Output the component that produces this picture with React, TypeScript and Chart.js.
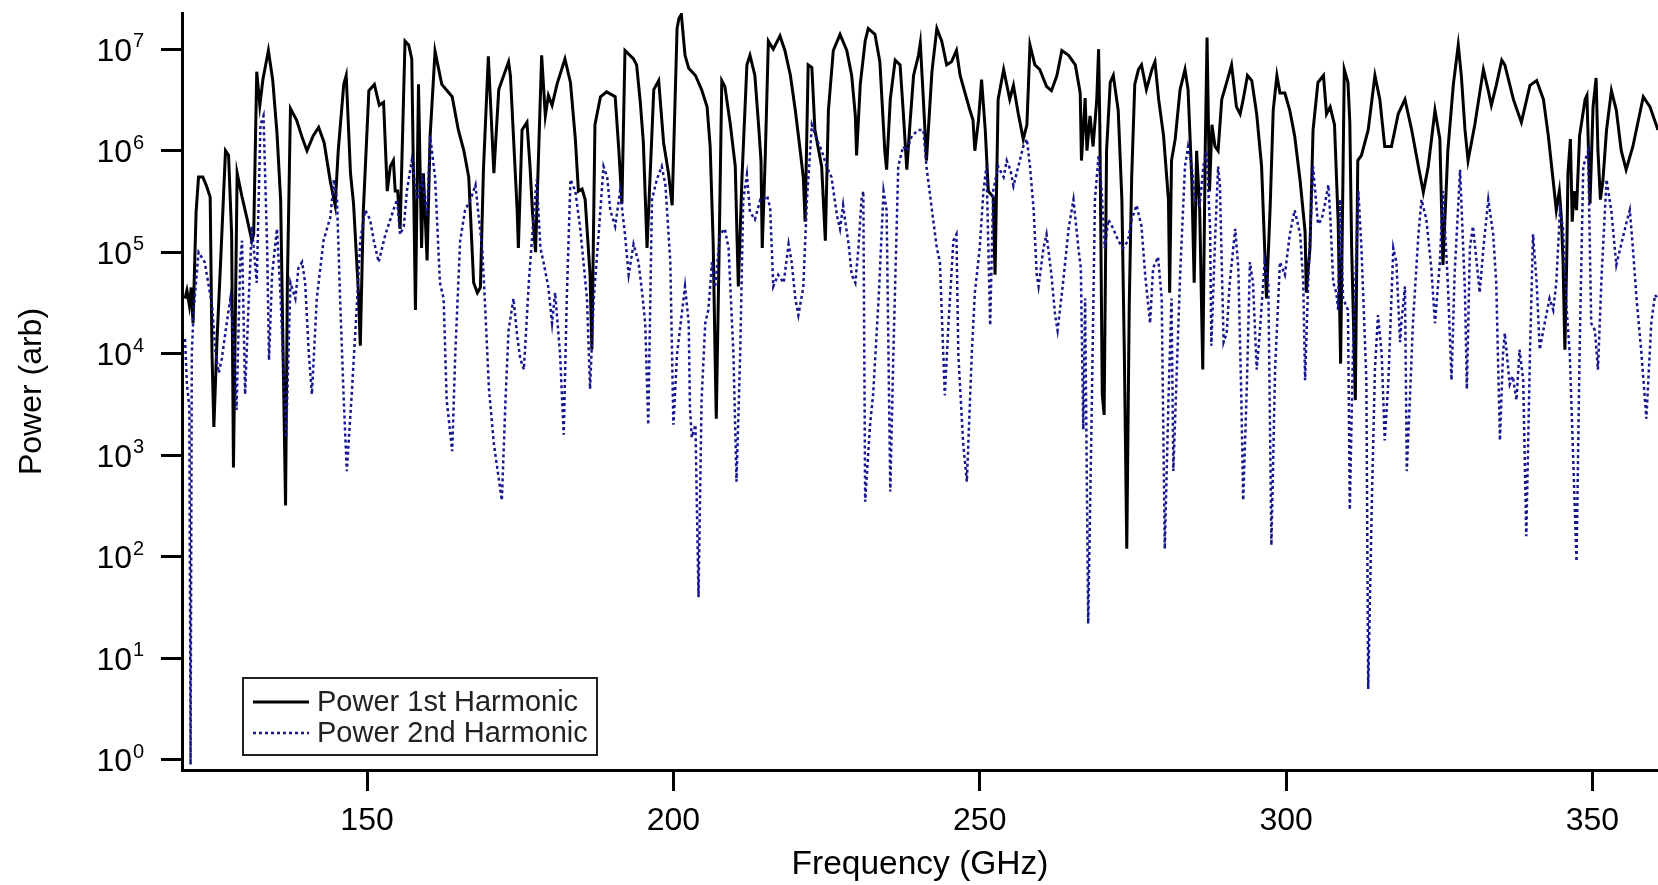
import { useEffect, useRef } from "react";
import { Chart, registerables } from "chart.js";

Chart.register(...registerables);

const FONT = "'Liberation Sans', Arial, Helvetica, sans-serif";

const xTickValues = [150, 200, 250, 300, 350];
const yExponents = [0, 1, 2, 3, 4, 5, 6, 7];
const seriesLabels = ["Power 1st Harmonic", "Power 2nd Harmonic"];
const xTitle = "Frequency (GHz)";
const yTitle = "Power (arb)";

const h1Freq = [
  120.3, 120.6, 121.0, 121.3, 121.6, 122.1, 122.5, 123.2, 123.8, 124.4,
  124.7, 125.0, 125.5, 126.1, 126.9, 127.4, 127.9, 128.2, 128.8, 129.6,
  130.3, 131.2, 131.5, 132.0, 132.5, 133.0, 133.9, 134.6, 135.3, 135.9,
  136.3, 136.7, 137.0, 137.5, 138.5, 139.5, 140.2, 141.2, 142.1, 143.0,
  144.0, 144.8, 145.3, 146.2, 146.6, 147.3, 147.8, 148.6, 148.9, 149.4,
  150.3, 151.2, 152.0, 152.7, 153.3, 153.8, 154.3, 154.6, 155.0, 155.4,
  156.2, 156.8, 157.3, 157.9, 158.4, 158.9, 159.2, 159.8, 160.3, 161.1,
  162.2, 163.9, 164.9, 165.8, 166.6, 167.4, 168.0, 168.5, 169.0, 169.8,
  170.7, 171.5, 173.1, 173.4, 174.5, 174.7, 175.3, 176.1, 176.6, 177.0,
  177.5, 178.5, 179.1, 179.6, 180.2, 181.0, 182.3, 183.2, 184.0, 184.5,
  185.1, 185.6, 186.4, 186.7, 187.2, 188.1, 189.1, 190.5, 191.1, 191.6,
  192.1, 193.5, 194.0, 194.6, 195.1, 195.7, 196.8, 197.6, 198.4, 199.2,
  199.8, 200.6, 200.9, 201.3, 201.9, 202.5, 203.6, 204.6, 205.5, 206.0,
  206.5, 206.8, 207.0, 207.4, 207.9, 208.4, 209.3, 210.1, 210.4, 210.6,
  211.2, 212.0, 212.5, 213.3, 213.9, 214.3, 214.5, 215.0, 215.5, 216.3,
  217.4, 218.2, 219.1, 219.9, 220.7, 221.2, 221.5, 222.0, 222.6, 223.1,
  224.2, 224.8, 225.3, 226.1, 227.2, 228.3, 229.1, 229.7, 229.9, 230.5,
  231.3, 231.8, 232.9, 233.7, 234.5, 234.8, 235.4, 236.2, 237.0, 237.5,
  238.1, 238.6, 239.2, 240.0, 240.3, 240.8, 241.3, 242.2, 243.0, 243.8,
  244.6, 245.4, 246.2, 246.8, 247.6, 248.4, 248.9, 249.2, 249.8, 250.3,
  250.9, 251.4, 252.2, 252.5, 253.0, 253.9, 254.9, 255.5, 256.3, 257.1,
  257.7, 258.2, 259.0, 259.8, 260.9, 261.7, 262.6, 263.4, 264.5, 265.6,
  266.4, 266.6, 267.2, 267.5, 268.0, 268.5, 269.1, 269.4, 269.6, 270.0,
  270.3, 270.7, 271.3, 271.8, 272.6, 273.2, 273.6, 274.0, 274.4, 274.8,
  275.3, 275.9, 276.4, 277.2, 278.1, 278.6, 279.2, 280.0, 280.8, 281.0,
  281.3, 281.9, 282.7, 283.5, 284.0, 284.6, 285.0, 285.4, 285.9, 286.4,
  286.8, 287.1, 287.5, 287.9, 288.4, 288.9, 289.5, 290.3, 291.1, 291.9,
  292.5, 293.0, 293.7, 294.4, 295.2, 296.0, 296.5, 296.8, 297.4, 297.9,
  298.5, 299.0, 299.8, 300.6, 301.4, 302.3, 303.1, 303.3, 303.9, 304.4,
  305.2, 306.1, 306.6, 307.2, 307.9, 308.5, 308.9, 309.5, 310.1, 310.4,
  310.7, 311.0, 311.3, 311.7, 312.3, 313.4, 314.5, 315.3, 316.1, 317.2,
  318.3, 319.4, 320.5, 321.6, 322.4, 323.2, 324.3, 325.1, 325.6, 326.4,
  327.3, 328.1, 328.6, 329.2, 329.7, 330.8, 332.2, 333.0, 333.5, 334.3,
  335.2, 335.7, 337.1, 338.4, 339.8, 340.9, 342.0, 342.8, 343.6, 344.1,
  344.6, 344.9, 345.2, 345.5, 345.8, 346.0, 346.4, 346.7, 347.0, 347.4,
  347.9, 348.8, 349.1, 349.6, 350.1, 350.6, 350.9, 351.3, 351.7, 352.3,
  353.1, 353.9, 354.7, 355.5, 356.6, 358.3, 359.4, 360.7,
];

const h1Power = [
  3.5e4, 4.2e4, 3.0e4, 4.5e4, 2.0e4, 2.5e5, 5.5e5, 5.5e5, 4.5e5, 3.5e5,
  1.0e4, 1.9e3, 1.3e4, 8.0e4, 1.0e6, 9.0e5, 1.5e5, 7.6e2, 6.0e5, 3.5e5,
  2.3e5, 1.3e5, 1.5e5, 6.0e6, 2.8e6, 5.0e6, 9.7e6, 5.0e6, 1.5e6, 3.3e5,
  1.0e4, 3.2e2, 5.0e4, 2.6e6, 2.0e6, 1.3e6, 1.0e6, 1.4e6, 1.7e6, 1.2e6,
  5.0e5, 2.9e5, 1.0e6, 4.5e6, 5.5e6, 6.0e5, 3.0e5, 4.0e4, 1.2e4, 2.6e5,
  3.9e6, 4.5e6, 2.8e6, 3.0e6, 4.0e5, 7.0e5, 8.0e5, 4.0e5, 4.0e5, 1.7e5,
  1.2e7, 1.1e7, 8.0e6, 2.7e4, 4.5e6, 1.1e5, 6.0e5, 8.3e4, 1.4e6, 9.5e6,
  4.5e6, 3.4e6, 1.6e6, 1.0e6, 5.5e5, 5.0e4, 4.0e4, 4.5e4, 6.5e5, 8.5e6,
  6.0e5, 4.0e6, 7.5e6, 5.5e6, 2.6e5, 1.1e5, 1.6e6, 1.9e6, 7.0e5, 2.5e5,
  1.0e5, 8.7e6, 2.2e6, 3.5e6, 2.8e6, 4.5e6, 8.0e6, 4.7e6, 1.3e6, 4.0e5,
  4.2e5, 3.3e5, 6.0e4, 1.1e4, 1.8e6, 3.4e6, 3.8e6, 3.4e6, 1.0e6, 3.0e5,
  9.7e6, 8.0e6, 7.0e6, 3.0e6, 1.2e6, 1.1e5, 4.0e6, 4.9e6, 1.2e6, 6.0e5,
  2.9e5, 1.6e7, 2.0e7, 2.2e7, 8.7e6, 6.5e6, 5.5e6, 4.0e6, 2.7e6, 1.1e6,
  1.2e5, 1.0e4, 2.3e3, 6.0e4, 4.9e6, 4.3e6, 1.8e6, 7.0e5, 1.3e5, 4.6e4,
  5.5e5, 7.0e6, 8.7e6, 5.5e6, 1.8e6, 8.0e5, 1.1e5, 9.0e5, 1.2e7, 1.0e7,
  1.35e7, 9.7e6, 5.5e6, 2.5e6, 1.0e6, 5.5e5, 2.0e5, 7.0e6, 6.6e6, 1.6e6,
  7.0e5, 1.3e5, 2.5e6, 9.7e6, 1.4e7, 9.7e6, 5.5e6, 2.2e6, 9.0e5, 4.5e6,
  1.2e7, 1.6e7, 1.4e7, 7.5e6, 1.0e6, 6.5e5, 3.2e6, 7.8e6, 7.0e6, 2.5e6,
  6.5e5, 1.8e6, 5.5e6, 8.7e6, 1.15e7, 3.2e6, 8.0e5, 6.0e6, 1.6e7, 1.2e7,
  7.0e6, 7.5e6, 9.7e6, 5.5e6, 3.7e6, 2.5e6, 2.0e6, 1.0e6, 2.0e6, 5.0e6,
  1.6e6, 4.0e5, 3.5e5, 6.0e4, 3.2e6, 6.3e6, 3.2e6, 4.4e6, 2.3e6, 1.3e6,
  1.8e6, 1.1e7, 7.0e6, 6.3e6, 4.3e6, 3.9e6, 5.5e6, 9.7e6, 8.7e6, 7.0e6,
  3.7e6, 8.0e5, 3.3e6, 1.0e6, 2.2e6, 1.1e6, 3.2e6, 1.0e7, 1.8e6, 4.0e3,
  2.5e3, 1.0e6, 4.7e6, 5.5e6, 2.5e6, 3.3e5, 1.0e4, 1.2e2, 3.0e4, 5.5e5,
  4.5e6, 6.3e6, 7.0e6, 4.0e6, 6.3e6, 7.5e6, 3.2e6, 1.4e6, 3.3e5, 4.0e4,
  8.0e5, 1.3e6, 4.0e6, 6.3e6, 4.0e6, 5.5e5, 5.0e4, 1.0e6, 2.6e5, 7.0e3,
  1.0e6, 1.3e7, 4.0e5, 1.8e6, 1.1e6, 1.0e6, 3.2e6, 4.7e6, 7.0e6, 2.7e6,
  2.3e6, 3.2e6, 5.5e6, 4.9e6, 2.3e6, 7.0e5, 1.1e5, 3.5e4, 2.8e5, 2.5e6,
  5.5e6, 3.7e6, 3.7e6, 2.5e6, 1.4e6, 5.0e5, 1.6e5, 4.0e4, 1.1e5, 1.6e6,
  4.7e6, 5.5e6, 2.3e6, 2.7e6, 1.8e6, 2.0e5, 8.0e3, 6.3e6, 4.7e6, 1.9e6,
  1.1e5, 2.0e4, 3.5e3, 8.0e5, 9.0e5, 1.6e6, 5.5e6, 3.2e6, 1.1e6, 1.1e6,
  2.3e6, 3.2e6, 1.6e6, 7.0e5, 3.9e5, 7.0e5, 2.5e6, 1.3e6, 7.5e4, 1.0e6,
  4.5e6, 1.1e7, 5.5e6, 1.6e6, 8.0e5, 1.8e6, 6.3e6, 3.9e6, 2.8e6, 4.4e6,
  7.8e6, 7.0e6, 3.2e6, 1.9e6, 4.4e6, 4.9e6, 3.2e6, 1.4e6, 5.0e5, 2.6e5,
  4.0e5, 2.3e5, 8.3e4, 1.1e4, 8.3e4, 6.0e5, 1.3e6, 2.0e5, 4.0e5, 2.6e5,
  1.4e6, 3.2e6, 3.5e6, 3.0e5, 2.7e6, 5.2e6, 1.0e6, 3.3e5, 5.0e5, 1.6e6,
  3.9e6, 2.5e6, 1.0e6, 6.5e5, 1.1e6, 3.4e6, 2.7e6, 1.6e6,
];

const h2Freq = [
  120.3, 120.6, 121.0, 121.2, 121.4, 121.7, 122.5, 123.5, 124.7, 125.3,
  125.8, 126.3, 127.1, 127.7, 128.2, 128.7, 129.3, 129.6, 130.1, 130.7,
  131.2, 132.0, 132.6, 133.1, 133.7, 134.0, 134.5, 135.3, 135.9, 136.4,
  136.8, 137.5, 138.3, 138.8, 139.4, 139.9, 140.5, 141.0, 141.8, 142.9,
  144.0, 144.6, 145.1, 145.6, 146.2, 146.7, 147.5, 148.4, 148.9, 149.7,
  150.5, 151.1, 151.9, 153.0, 154.3, 154.9, 155.4, 156.0, 156.5, 157.3,
  158.2, 159.0, 159.8, 160.3, 161.1, 161.9, 162.5, 163.0, 163.9, 164.4,
  165.2, 166.0, 166.9, 167.7, 168.2, 168.8, 169.3, 169.9, 170.7, 172.0,
  172.6, 173.1, 173.9, 174.5, 175.0, 175.6, 176.4, 177.2, 177.7, 178.3,
  178.8, 179.6, 180.2, 180.7, 181.5, 182.1, 182.6, 183.2, 184.0, 184.8,
  185.9, 186.4, 187.0, 187.8, 188.6, 189.2, 189.7, 190.5, 191.3, 192.1,
  192.7, 193.5, 194.3, 194.9, 195.4, 195.9, 196.5, 197.3, 198.1, 198.7,
  199.5, 200.0, 200.6, 201.9, 202.5, 202.7, 203.0, 203.6, 204.1, 204.6,
  205.2, 205.7, 206.3, 206.8, 207.6, 208.4, 209.0, 209.8, 210.3, 210.9,
  211.4, 212.0, 212.5, 213.3, 214.2, 214.7, 215.3, 215.8, 216.3, 217.1,
  218.0, 218.8, 219.3, 219.9, 220.4, 221.2, 221.8, 222.6, 223.4, 224.2,
  225.0, 225.8, 226.7, 227.2, 227.7, 228.0, 228.6, 229.1, 229.7, 230.2,
  230.7, 231.0, 231.3, 232.1, 232.6, 233.5, 234.3, 234.8, 235.4, 235.9,
  236.7, 237.5, 238.1, 238.9, 240.0, 240.8, 241.3, 242.2, 243.0, 243.5,
  244.3, 244.9, 245.7, 246.2, 246.5, 247.3, 247.9, 248.7, 249.2, 250.0,
  250.6, 251.1, 251.7, 252.2, 253.0, 253.9, 254.4, 255.0, 255.5, 256.3,
  257.1, 257.7, 258.2, 258.8, 259.3, 259.6, 260.4, 260.9, 261.7, 262.3,
  262.7, 263.6, 264.5, 265.3, 266.1, 266.5, 266.9, 267.2, 267.7, 268.3,
  268.8, 269.4, 269.9, 270.4, 271.0, 271.8, 272.6, 273.4, 274.2, 274.8,
  275.6, 276.4, 277.0, 277.8, 278.3, 279.1, 279.7, 280.2, 280.8, 281.3,
  281.6, 282.7, 283.5, 284.0, 284.6, 285.1, 285.9, 286.5, 287.0, 287.6,
  287.8, 288.4, 288.9, 289.2, 289.8, 290.3, 290.8, 291.7, 292.2, 292.7,
  293.0, 293.6, 294.1, 294.6, 295.2, 295.7, 296.5, 297.1, 297.6, 298.2,
  299.0, 299.8, 300.6, 301.4, 302.3, 302.8, 303.1, 303.6, 304.4, 305.2,
  305.8, 306.3, 306.9, 307.2, 307.7, 308.2, 308.5, 308.8, 309.3, 310.1,
  310.4, 310.9, 311.8, 312.3, 313.1, 313.4, 314.0, 314.5, 315.0, 315.6,
  316.1, 316.7, 317.5, 318.0, 318.6, 318.8, 319.4, 319.7, 320.2, 320.7,
  321.6, 322.1, 322.9, 323.7, 324.3, 325.1, 325.6, 326.4, 327.0, 327.5,
  328.4, 329.2, 329.5, 330.0, 330.5, 331.1, 331.6, 332.2, 333.0, 333.8,
  334.3, 334.9, 335.4, 335.7, 336.5, 337.0, 337.6, 338.1, 338.7, 339.2,
  339.8, 340.3, 340.9, 341.4, 342.2, 343.0, 343.6, 344.1, 344.7, 345.2,
  345.8, 346.3, 346.8, 347.4, 347.9, 348.5, 349.3, 349.8, 350.4, 350.9,
  351.5, 352.3, 353.1, 353.9, 354.7, 355.5, 356.1, 356.6, 357.2, 358.0,
  358.8, 359.6, 360.2, 360.7,
];

const h2Power = [
  1.4e4, 5.0e3, 3.0e3, 0.9, 1.0e4, 2.7e4, 1.0e5, 8.0e4, 3.0e4, 1.0e4,
  6.5e3, 9.0e3, 2.0e4, 3.5e4, 1.5e4, 2.8e3, 8.0e4, 1.3e5, 4.0e3, 3.5e4,
  1.8e5, 5.0e4, 1.8e6, 2.2e6, 1.1e5, 8.7e3, 6.0e4, 1.7e5, 3.5e4, 6.0e3,
  1.5e3, 5.0e4, 3.5e4, 7.0e4, 8.0e4, 5.0e4, 1.0e4, 4.0e3, 3.5e4, 1.3e5,
  2.2e5, 5.2e5, 3.3e5, 3.5e4, 3.5e3, 7.0e2, 4.0e3, 3.5e4, 1.3e5, 2.6e5,
  2.1e5, 1.3e5, 8.0e4, 1.5e5, 2.6e5, 3.3e5, 1.5e5, 1.8e5, 4.0e5, 8.0e5,
  3.3e5, 5.2e5, 2.3e5, 1.4e6, 5.5e5, 5.0e4, 3.5e4, 3.5e3, 1.1e3, 1.0e4,
  1.3e5, 2.6e5, 3.3e5, 4.6e5, 2.3e5, 1.1e5, 2.7e4, 4.5e3, 1.3e3, 3.6e2,
  3.5e3, 1.7e4, 3.5e4, 1.5e4, 9.0e3, 7.0e3, 5.0e4, 2.3e5, 5.2e5, 1.1e5,
  8.0e4, 4.5e4, 2.0e4, 4.0e4, 1.0e4, 1.6e3, 3.5e4, 5.2e5, 4.0e5, 1.7e5,
  3.5e4, 4.5e3, 3.5e4, 1.5e5, 7.0e5, 5.5e5, 2.6e5, 1.8e5, 4.0e5, 1.5e5,
  6.0e4, 1.2e5, 8.0e4, 4.0e4, 2.0e4, 2.0e3, 3.3e5, 5.2e5, 7.0e5, 4.6e5,
  8.0e4, 2.0e3, 1.0e4, 4.6e4, 2.0e4, 3.0e3, 1.5e3, 2.0e3, 40, 3.5e3,
  2.0e4, 2.7e4, 8.0e4, 4.5e4, 1.5e5, 1.7e5, 1.1e5, 1.0e4, 5.5e2, 1.0e4,
  3.3e5, 5.8e5, 2.5e5, 2.1e5, 3.3e5, 3.3e5, 3.6e5, 2.7e5, 4.6e4, 6.0e4,
  5.0e4, 1.2e5, 8.0e4, 3.5e4, 2.4e4, 4.5e4, 3.3e5, 1.8e6, 1.3e6, 1.0e6,
  7.0e5, 5.5e5, 2.3e5, 1.7e5, 2.9e5, 2.1e5, 1.2e5, 6.0e4, 5.0e4, 1.1e5,
  3.3e5, 4.0e5, 3.5e2, 2.0e3, 4.0e3, 3.5e4, 4.0e5, 2.6e5, 4.4e2, 1.0e4,
  7.0e5, 1.1e6, 1.0e6, 1.4e6, 1.6e6, 1.6e6, 7.0e5, 2.6e5, 1.1e5, 8.0e4,
  3.9e3, 2.0e4, 1.3e5, 1.5e5, 1.0e4, 1.3e3, 5.5e2, 1.0e4, 4.0e4, 1.1e5,
  4.0e5, 7.0e5, 1.9e4, 4.0e5, 7.0e5, 5.5e5, 8.0e5, 6.5e5, 4.5e5, 7.0e5,
  1.1e6, 1.3e6, 7.0e5, 2.6e5, 6.0e4, 4.6e4, 1.1e5, 1.5e5, 6.0e4, 2.4e4,
  1.7e4, 5.0e4, 1.7e5, 3.3e5, 1.1e5, 7.0e4, 1.8e3, 3.5e4, 22, 3.5e3,
  3.3e5, 9.0e5, 4.0e5, 1.1e5, 2.1e5, 1.7e5, 1.3e5, 1.1e5, 1.3e5, 2.1e5,
  2.9e5, 1.8e5, 6.0e4, 2.0e4, 7.0e4, 9.0e4, 3.5e4, 1.2e2, 3.5e3, 3.5e4,
  7.0e2, 6.0e4, 7.0e5, 1.1e6, 7.0e5, 3.3e5, 2.9e5, 7.0e5, 1.0e6, 1.7e5,
  1.2e4, 1.3e5, 7.0e5, 4.6e5, 1.3e4, 1.6e4, 5.0e4, 1.7e5, 7.0e4, 3.5e3,
  3.6e2, 5.0e3, 8.0e4, 5.0e4, 7.0e3, 1.6e4, 8.0e4, 5.0e4, 1.3e2, 7.0e3,
  8.0e4, 6.0e4, 1.5e5, 2.6e5, 1.5e5, 5.0e4, 5.5e3, 5.0e4, 7.0e5, 1.9e5,
  2.1e5, 2.9e5, 4.6e5, 2.3e5, 5.0e4, 4.0e4, 2.7e4, 3.3e5, 3.5e4, 2.7e4,
  2.9e2, 1.0e4, 4.0e5, 1.1e5, 5.5e3, 5, 3.6e2, 7.0e3, 2.4e4, 1.0e4,
  1.4e3, 5.5e3, 1.1e5, 8.0e4, 1.3e4, 2.0e4, 4.6e4, 7.0e2, 3.5e3, 2.0e4,
  1.5e5, 3.3e5, 2.1e5, 7.0e4, 2.0e4, 8.0e4, 4.0e5, 5.0e4, 5.5e3, 6.0e4,
  6.5e5, 4.0e4, 4.5e3, 1.1e5, 1.8e5, 8.0e4, 4.0e4, 1.1e5, 3.3e5, 1.5e5,
  5.0e4, 1.4e3, 1.0e4, 1.6e4, 5.0e3, 6.0e3, 3.5e3, 1.1e4, 5.5e3, 1.6e2,
  1.0e4, 1.5e5, 5.0e4, 1.1e4, 2.0e4, 3.5e4, 2.7e4, 5.0e4, 2.6e5, 1.7e5,
  2.7e4, 1.0e4, 1.2e3, 90, 1.0e4, 7.0e5, 1.0e6, 2.0e4, 1.7e4, 7.0e3,
  6.0e4, 5.2e5, 2.5e5, 7.5e4, 1.2e5, 1.9e5, 2.6e5, 1.1e5, 3.5e4, 1.0e4,
  2.3e3, 2.0e4, 3.8e4, 3.5e4,
];

const X_MIN = 119.8;
const X_MAX = 360.7;
const Y_MIN = 0.797;
const Y_MAX = 2.27e7;

const BLACK = "#000000";
const NAVY = "#16168f";

const toPoints = (xs: number[], ys: number[]) =>
  xs.map((x, i) => ({ x, y: ys[i] }));

const yLabelPlugin = {
  id: "powerOfTenLabels",
  afterDraw(chart: any) {
    const { ctx, chartArea } = chart;
    const yScale = chart.scales.y;
    ctx.save();
    ctx.fillStyle = "#000";
    for (const e of yExponents) {
      const py = yScale.getPixelForValue(Math.pow(10, e));
      const right = chartArea.left - 50;
      ctx.font = `32px ${FONT}`;
      ctx.textAlign = "right";
      ctx.textBaseline = "alphabetic";
      ctx.fillText("10", right, py + 11.5);
      ctx.font = `20px ${FONT}`;
      ctx.textAlign = "left";
      ctx.fillText(String(e), right + 1, py - 2);
    }
    ctx.restore();
  },
};

const boxLegendPlugin = {
  id: "boxLegend",
  afterDraw(chart: any) {
    const { ctx, chartArea } = chart;
    const x0 = chartArea.left + 61;
    const y0 = chartArea.bottom - 92;
    const w = 354;
    const h = 77;
    ctx.save();
    ctx.fillStyle = "#ffffff";
    ctx.fillRect(x0, y0, w, h);
    ctx.strokeStyle = "#222";
    ctx.lineWidth = 2;
    ctx.strokeRect(x0, y0, w, h);
    const rows = [
      { label: seriesLabels[0], color: BLACK, dash: [] as number[], width: 3, dy: 24 },
      { label: seriesLabels[1], color: NAVY, dash: [3, 3], width: 2.5, dy: 55 },
    ];
    for (const r of rows) {
      ctx.beginPath();
      ctx.setLineDash(r.dash);
      ctx.strokeStyle = r.color;
      ctx.lineWidth = r.width;
      ctx.moveTo(x0 + 10, y0 + r.dy);
      ctx.lineTo(x0 + 66, y0 + r.dy);
      ctx.stroke();
      ctx.setLineDash([]);
      ctx.fillStyle = "#222";
      ctx.font = `29px ${FONT}`;
      ctx.textAlign = "left";
      ctx.textBaseline = "middle";
      ctx.fillText(r.label, x0 + 74, y0 + r.dy + 1);
    }
    ctx.restore();
  },
};

export default function App() {
  const canvasRef = useRef<HTMLCanvasElement | null>(null);

  useEffect(() => {
    if (!canvasRef.current) return;
    const chart = new Chart(canvasRef.current, {
      type: "line",
      data: {
        datasets: [
          {
            label: seriesLabels[0],
            data: toPoints(h1Freq, h1Power),
            borderColor: BLACK,
            borderWidth: 3,
            pointRadius: 0,
            tension: 0,
            fill: false,
            order: 1,
          },
          {
            label: seriesLabels[1],
            data: toPoints(h2Freq, h2Power),
            borderColor: NAVY,
            borderWidth: 2.5,
            borderDash: [3, 3],
            pointRadius: 0,
            tension: 0,
            fill: false,
            order: 0,
          },
        ],
      },
      options: {
        animation: false,
        responsive: true,
        maintainAspectRatio: false,
        devicePixelRatio: 1,
        layout: { padding: { top: 13, left: 0, right: 0, bottom: 0 } },
        plugins: {
          legend: { display: false },
          tooltip: { enabled: false },
          title: { display: false },
        },
        scales: {
          x: {
            type: "linear",
            min: X_MIN,
            max: X_MAX,
            afterBuildTicks: (scale: any) => {
              scale.ticks = xTickValues.map((v) => ({ value: v }));
            },
            afterFit: (scale: any) => {
              scale.height = 115;
            },
            grid: {
              drawOnChartArea: false,
              drawTicks: true,
              tickLength: 21,
              tickWidth: 3,
              tickColor: "#000",
            },
            border: { display: true, color: "#000", width: 3 },
            ticks: {
              color: "#000",
              padding: 11,
              maxRotation: 0,
              autoSkip: false,
              font: { family: FONT, size: 32 },
            },
            title: {
              display: true,
              text: xTitle,
              color: "#000",
              font: { family: FONT, size: 33.5 },
              padding: { top: 0, bottom: 0 },
            },
          },
          y: {
            type: "logarithmic",
            min: Y_MIN,
            max: Y_MAX,
            afterBuildTicks: (scale: any) => {
              scale.ticks = yExponents.map((e) => ({ value: Math.pow(10, e), major: true }));
            },
            afterFit: (scale: any) => {
              scale.width = 182;
            },
            grid: {
              drawOnChartArea: false,
              drawTicks: true,
              tickLength: 21,
              tickWidth: 3,
              tickColor: "#000",
            },
            border: { display: true, color: "#000", width: 3 },
            ticks: { display: false },
            title: {
              display: true,
              text: yTitle,
              color: "#000",
              font: { family: FONT, size: 32 },
              padding: { top: 13, bottom: 0 },
            },
          },
        },
      },
      plugins: [yLabelPlugin, boxLegendPlugin],
    });
    return () => chart.destroy();
  }, []);

  return (
    <div
      style={{
        position: "fixed",
        left: 0,
        top: 0,
        width: 1658,
        height: 885,
        background: "#fff",
      }}
    >
      <canvas ref={canvasRef} />
    </div>
  );
}
